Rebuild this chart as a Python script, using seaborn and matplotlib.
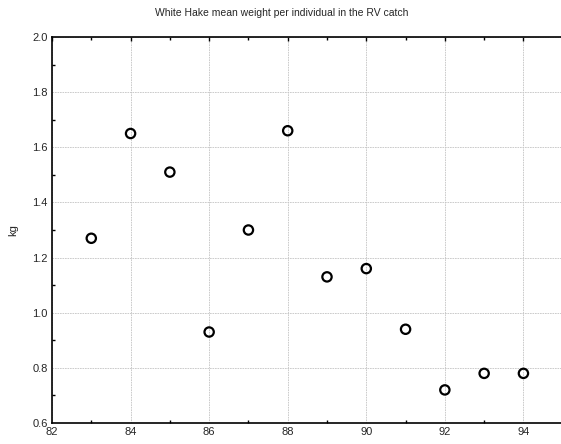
import matplotlib
matplotlib.use("Agg")
import matplotlib.pyplot as plt
import seaborn as sns
import pandas as pd
from matplotlib.ticker import MultipleLocator

years = [83, 84, 85, 86, 87, 88, 89, 90, 91, 92, 93, 94]
weights = [1.27, 1.65, 1.51, 0.93, 1.30, 1.66, 1.13, 1.16, 0.94, 0.72, 0.78, 0.78]
title = "White Hake mean weight per individual in the RV catch"
ylabel = "kg"
xticks = [82, 84, 86, 88, 90, 92, 94]
yticks = [0.6, 0.8, 1.0, 1.2, 1.4, 1.6, 1.8, 2.0]

sns.set_style("white")
plt.rcParams['font.family'] = ['Liberation Sans', 'DejaVu Sans']

df = pd.DataFrame({"year": years, "kg": weights})

fig = plt.figure(figsize=(5.61, 4.44), dpi=100)
# axes extends beyond right edge of image (right spine not visible)
ax = fig.add_axes([52 / 561, 21 / 444, 550 / 561, 386 / 444])

sns.scatterplot(data=df, x="year", y="kg", ax=ax, marker="o", s=45,
                facecolors="none", edgecolor="black", linewidth=1.6, zorder=3)

ax.set_xlim(82, 96)
ax.set_ylim(0.6, 2.0)
ax.set_xticks(xticks + [96])
ax.set_xticklabels([str(v) for v in xticks] + [""])
ax.set_yticks(yticks)
ax.set_yticklabels([f"{v:.1f}" for v in yticks])
ax.xaxis.set_minor_locator(MultipleLocator(1))
ax.yaxis.set_minor_locator(MultipleLocator(0.1))

ax.grid(True, which="major", color="#c4c4c4", linestyle=(0, (2, 1)), linewidth=0.6)
ax.tick_params(which="both", direction="in", top=True, right=False, labelsize=8,
               width=1, color="black", pad=3)
ax.tick_params(which="major", length=3)
ax.tick_params(which="minor", length=2, bottom=True, top=True, left=True)
for s in ax.spines.values():
    s.set_color("black")
    s.set_linewidth(1.2)

ax.set_xlabel("")
ax.set_ylabel(ylabel, fontsize=8, labelpad=10)
fig.text(282 / 561, 1 - 13 / 444, title, ha="center", va="center", fontsize=7.5)

fig.savefig("out.png", dpi=100)
